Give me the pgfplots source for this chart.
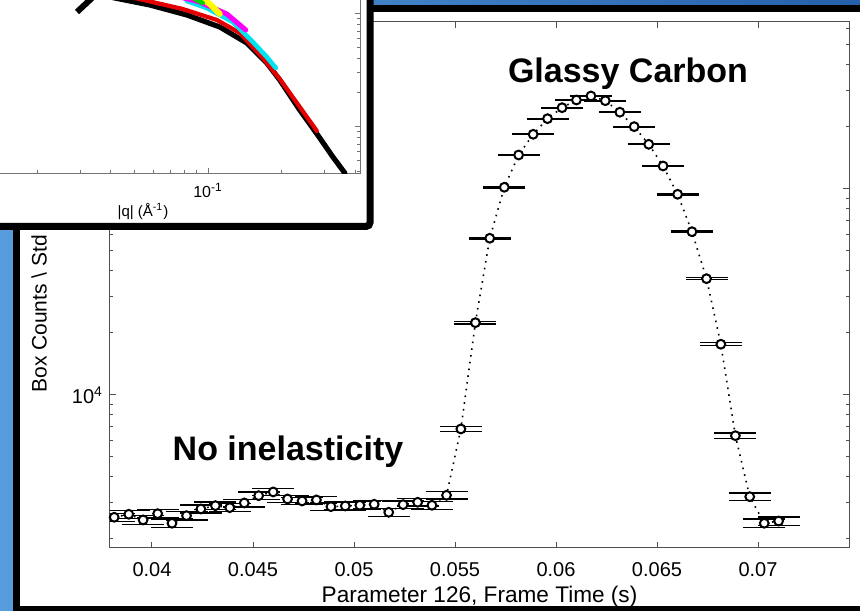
\documentclass[border=0pt]{standalone}
\usepackage{fontspec}
\setmainfont{Liberation Sans}
\usepackage{pgfplots}
\pgfplotsset{compat=1.18}
\usepackage{pgfplotstable}

\definecolor{bgA}{RGB}{86,156,222}
\definecolor{bgB}{RGB}{38,96,170}
\definecolor{axgray}{RGB}{80,80,80}
\definecolor{cred}{RGB}{228,0,0}
\definecolor{ccyan}{RGB}{0,228,240}
\definecolor{cmag}{RGB}{250,0,250}
\definecolor{cyel}{RGB}{255,250,0}
\definecolor{cgreen}{RGB}{0,215,0}

\pgfplotstableread{
x y ey
0.03813 2549 118
0.03885 2636 120
0.03956 2474 116
0.04028 2653 121
0.04099 2384 114
0.04171 2595 119
0.04242 2797 124
0.04314 2902 126
0.04385 2838 125
0.04457 2991 128
0.04528 3245 133
0.04600 3382 136
0.04671 3127 131
0.04743 3058 129
0.04814 3093 130
0.04886 2870 125
0.04957 2892 126
0.05029 2915 126
0.05100 2948 127
0.05172 2695 121
0.05243 2935 127
0.05315 3014 128
0.05386 2915 126
0.05458 3259 134
0.05529 6839 194
0.05601 22439 350
0.05672 57650 562
0.05744 101930 747
0.05815 146220 894
0.05887 184310 1004
0.05958 219450 1096
0.06030 248070 1165
0.06101 270400 1217
0.06173 282800 1244
0.06244 268300 1212
0.06316 235900 1137
0.06387 200700 1048
0.06459 164800 950
0.06530 129300 841
0.06602 94250 718
0.06673 62030 583
0.06745 36700 448
0.06816 17630 311
0.06888 6344 186
0.06959 3208 132
0.07031 2384 114
0.07102 2444 116
}\maindata

\pgfplotstableread{
x y
0.02467 25.00
0.03275 18.00
0.03955 14.05
0.05769 11.94
0.08180 9.739
0.1117 7.625
0.1441 5.505
0.1740 3.662
0.1967 2.590
0.2375 1.405
0.2869 0.7943
0.3245 0.5394
0.3633 0.3893
}\blackcurve

\pgfplotstableread{
x y
0.04558 14.94
0.04913 13.90
0.07873 11.00
0.1086 8.796
0.1349 6.750
0.1675 4.055
0.1967 2.643
0.2375 1.494
0.2790 0.9161
}\redcurve

\pgfplotstableread{
x y
0.0818 12.95
0.0988 11.23
0.1262 8.446
0.1525 5.618
0.1740 4.139
0.1894 3.307
}\cyancurve

\pgfplotstableread{
x y
0.07656 14.05
0.09248 12.69
0.1193 9.939
0.1427 7.174
}\magcurve

\pgfplotstableread{
x y
0.09248 14.05
0.1016 12.18
0.1117 9.939
}\yelcurve

\pgfplotstableread{
x y
0.08658 13.77
0.09512 12.44
}\greencurve

\begin{document}
\begin{tikzpicture}[x=0.5pt,y=0.5pt]
\useasboundingbox (0,0) rectangle (860,610);
\clip (0,0) rectangle (860,610);
\shade[left color=bgA, right color=bgB] (0,0) rectangle (860,610);
\fill[black] (13,-5) rectangle (870,605);
\fill[white] (20,4) rectangle (870,598);

\begin{axis}[
  at={(55pt,31pt)}, anchor=south west,
  scale only axis, width=369.5pt, height=263pt,
  xmin=0.037921, xmax=0.074505,
  ymode=log, ymin=1808, ymax=646700,
  scaled x ticks=false,
  xtick={0.04,0.045,0.05,0.055,0.06,0.065,0.07},
  xticklabels={0.04,0.045,0.05,0.055,0.06,0.065,0.07},
  ytick={10000,100000},
  yticklabels={10\textsuperscript{4},10\textsuperscript{5}},
  minor ytick={2000,3000,4000,5000,6000,7000,8000,9000,20000,30000,40000,50000,60000,70000,80000,90000,200000,300000,400000,500000,600000},
  tick align=inside,
  major tick length=3pt, minor tick length=1.6pt,
  axis line style={axgray, line width=0.5pt},
  tick style={axgray, line width=0.5pt},
  /pgf/number format/assume math mode=true,
  tick label style={font=\fontsize{10}{12}\selectfont},
  xticklabel style={yshift=-3.5pt},
  xlabel={Parameter 126, Frame Time (s)},
  xlabel style={font=\fontsize{11.3}{13}\selectfont, at={(axis description cs:0.5,0)}, anchor=base, yshift=-27.5pt},
]
\addplot[black, line width=0.8pt, dash pattern=on 0.8pt off 2.6pt] table[x=x,y=y] {\maindata};
\addplot[black, only marks, mark=*, mark size=2.2pt,
  mark options={fill=white, draw=black, line width=1pt, solid},
  error bars/.cd, y dir=both, y explicit,
  error bar style={black, line width=0.6pt, solid},
  error mark options={rotate=90, mark size=10.5pt, line width=0.65pt, black, solid}]
  table[x=x,y=y,y error=ey] {\maindata};
\end{axis}

\node[rotate=90, anchor=base west, inner sep=0pt, font=\fontsize{10.5}{12}\selectfont] at (46.7,217) {Box Counts \textbackslash{} Std};
\node[anchor=base, font=\bfseries\fontsize{17}{20}\selectfont] at (628,527) {Glassy Carbon};
\node[anchor=base, font=\bfseries\fontsize{17}{20}\selectfont] at (288,150) {No inelasticity};

% inset panel
\filldraw[fill=white, draw=black, line width=3.5pt, rounded corners=2pt] (-20,383.5) rectangle (370,640);

\begin{axis}[
  at={(-37pt,218.35pt)}, anchor=south west,
  scale only axis, width=217pt, height=116.67pt,
  xmode=log, ymode=log,
  xmin=0.007, xmax=0.419, ymin=0.387, ymax=44.89,
  xtick={0.1}, xticklabels={10\textsuperscript{-1}},
  minor xtick={0.008,0.009,0.01,0.02,0.03,0.04,0.05,0.06,0.07,0.08,0.09,0.2,0.3,0.4},
  ytick={1,10}, yticklabels={},
  minor ytick={0.4,0.5,0.6,0.7,0.8,0.9,2,3,4,5,6,7,8,9,20,30,40},
  tick align=inside,
  major tick length=2.5pt, minor tick length=1.5pt,
  axis line style={black!55, line width=0.4pt},
  tick style={black!55, line width=0.4pt},
  tick label style={font=\fontsize{8}{9}\selectfont},
  xticklabel style={yshift=-1.5pt},
  xlabel={|q| (Å\textsuperscript{-1})},
  xlabel style={font=\fontsize{7.5}{9}\selectfont, at={(axis description cs:0.5,0)}, anchor=center, yshift=-19.3pt},
]
\addplot[black, line width=2.6pt, line cap=round, line join=round] table[x=x,y=y] {\blackcurve};
\addplot[cred, line width=2.1pt, line cap=round, line join=round] table[x=x,y=y] {\redcurve};
\addplot[ccyan, line width=2.3pt, line cap=round, line join=round] table[x=x,y=y] {\cyancurve};
\addplot[cmag, line width=2.5pt, line cap=round, line join=round] table[x=x,y=y] {\magcurve};
\addplot[cyel, line width=3pt, line cap=round, line join=round] table[x=x,y=y] {\yelcurve};
\addplot[cgreen, line width=2.2pt, line cap=round, line join=round] table[x=x,y=y] {\greencurve};
\end{axis}

\draw[black, line width=3pt] (77,598) -- (92,612);
\end{tikzpicture}
\end{document}
